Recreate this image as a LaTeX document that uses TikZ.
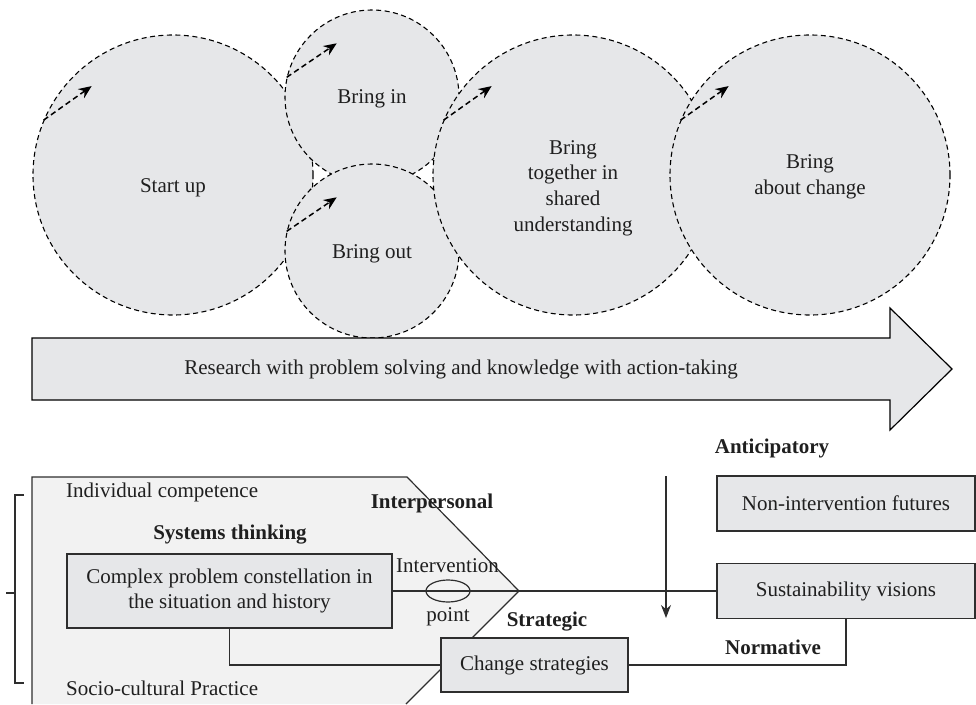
\documentclass[tikz,border=0pt]{standalone}
\usepackage{fontspec}
\setmainfont{Liberation Serif}
\usetikzlibrary{shapes.geometric,arrows.meta,calc}
\definecolor{cfill}{HTML}{E6E7E9}
\definecolor{pfill}{HTML}{F2F2F2}
\definecolor{lcol}{HTML}{2E2E2E}
\begin{document}
\begin{tikzpicture}[x=1pt,y=-1pt,
  every node/.style={font=\fontsize{21}{25.7}\selectfont, inner sep=0pt, text=black!88},
  phase/.style={circle, fill=cfill, draw=black, line width=1.1pt, dash pattern=on 5pt off 3.5pt},
  darr/.style={draw=black, line width=1.5pt, dash pattern=on 5.5pt off 3.5pt, -{Stealth[length=13pt,width=11pt]}},
  box/.style={draw=lcol, fill=cfill, line width=1.2pt, align=center},
  conn/.style={draw=lcol, line width=1.2pt},
  bold/.style={font=\fontsize{21}{25.7}\selectfont\bfseries}]
\useasboundingbox (0,0) rectangle (976,704);

% ---------- phase circles ----------
\node[phase, minimum size=280pt] (su) at (173,175) {};
\coordinate (suA) at ($(su.157.5)+(48,-34)$);
\draw[darr] (su.157.5) -- (suA);

\node[phase, minimum size=174pt] (bi) at (372,97) {};
\coordinate (biA) at ($(bi.167.4)+(50,-34)$);
\draw[darr] (bi.167.4) -- (biA);

\node[phase, minimum size=174pt] (bo) at (372,251) {};
\coordinate (boA) at ($(bo.167.4)+(50,-34)$);
\draw[darr] (bo.167.4) -- (boA);

\node[phase, minimum size=280pt] (bt) at (573,175) {};
\coordinate (btA) at ($(bt.157.5)+(48,-34)$);
\draw[darr] (bt.157.5) -- (btA);

\node[phase, minimum size=280pt] (ba) at (810,175) {};
\coordinate (baA) at ($(ba.157.5)+(48,-34)$);
\draw[darr] (ba.157.5) -- (baA);

\node (sut) at (173,188) {Start up};
\node (bit) at (372,99) {Bring in};
\node (bot) at (372,254) {Bring out};
\node[align=center] (btt) at (573,188) {Bring\\together in\\shared\\understanding};
\node[align=center] (bat) at (810,177) {Bring\\about change};

% ---------- big arrow ----------
\path[draw=black, fill=cfill, line width=1.2pt]
  (32,338) -- (890,338) -- (890,308) -- (952,369) -- (890,430) -- (890,400) -- (32,400) -- cycle;
\node (res) at (461,369) {Research with problem solving and knowledge with action-taking};

% ---------- pentagon ----------
\fill[pfill] (32,477) -- (407,477) -- (519,591) -- (406,704) -- (32,704) -- cycle;
\draw[conn] (32,704) -- (32,477) -- (407,477) -- (519,591) -- (406,704);

% ---------- bracket ----------
\coordinate (brT) at (24,495);
\coordinate (brB) at (24,683);
\coordinate (brM) at (15,593);
\coordinate (brL) at (6,593);
\draw[conn] (brT) -- (15,495) -- (15,683) -- (brB);
\draw[conn] (brM) -- (brL);

% ---------- boxes ----------
\node[box, minimum width=325pt, minimum height=74pt] (cp) at (229.5,591)
  {Complex problem constellation in\\the situation and history};
\node[box, minimum width=187pt, minimum height=54pt] (cs) at (534.5,665) {Change strategies};
\node[box, minimum width=258pt, minimum height=55pt] (sv) at (846,591) {Sustainability visions};
\node[box, minimum width=258pt, minimum height=55pt] (nf) at (846,503.5) {Non-intervention futures};

% ---------- connectors ----------
\draw[conn] (cp.east) -- (sv.west);
\node[ellipse, draw=lcol, line width=1.2pt, minimum width=44pt, minimum height=22pt] (ip) at (448,591) {};
\draw[conn] (cp.south) |- (cs.west);
\draw[conn] (cs.east) -| (sv.south);

\coordinate (arT) at (666,476);
\coordinate (arB) at (666,618);
\draw[conn, -{Stealth[length=13pt,width=10pt]}] (arT) -- (arB);

% ---------- labels ----------
\node[anchor=west] (ic) at (66,492) {Individual competence};
\node[anchor=west] (scp) at (66,688) {Socio-cultural Practice};
\node[bold] (lst) at (230,535) {Systems thinking};
\node[bold] (lip) at (432,503) {Interpersonal};
\node[bold] (lsg) at (547,622) {Strategic};
\node[bold] (lnm) at (773,647) {Normative};
\node[bold] (lan) at (772,448) {Anticipatory};
\node[anchor=west] (ivt) at (396,566) {Intervention};
\node (ivp) at (448,617) {point};
\end{tikzpicture}
\end{document}
